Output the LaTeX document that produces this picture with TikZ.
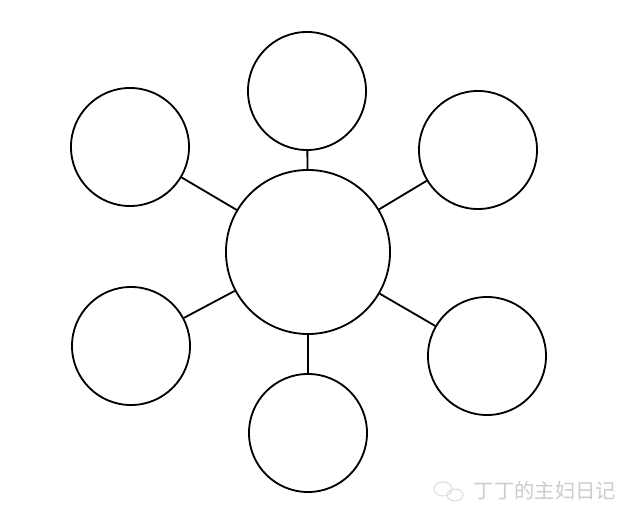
\documentclass[tikz,border=0pt]{standalone}
\usepackage{fontspec}
\newfontfamily\cjk{Noto Sans CJK SC}
\usetikzlibrary{shapes}

\begin{document}
\begin{tikzpicture}[x=0.025cm, y=-0.025cm,
		topic/.style={circle, draw, line width=1.3pt, minimum size=2.95cm, inner sep=0pt},
		hub/.style={topic, minimum size=4.1cm},
		spoke/.style={line width=1.3pt}]
		\useasboundingbox (0, 0) rectangle (640, 523);
		\path (308, 252) node[hub] (centre) {}
		(307, 91) node[topic] (top) {}
		(478, 150) node[topic] (upright) {}
		(130, 147) node[topic] (upleft) {}
		(131, 346) node[topic] (lowleft) {}
		(487, 356) node[topic] (lowright) {}
		(308, 433) node[topic] (bottom) {};

		\draw[spoke] (top) -- (centre);
		\draw[spoke] (upright) -- (centre);
		\draw[spoke] (upleft) -- (centre);
		\draw[spoke] (lowleft) -- (centre);
		\draw[spoke] (lowright) -- (centre);
		\draw[spoke] (bottom) -- (centre);

		% watermark
		\draw[gray!25, line width=0.8pt] (443, 489) ellipse (9 and 7);
		\draw[gray!25, line width=0.8pt] (455, 495) ellipse (8 and 6);
		\node[text=gray!40, inner sep=0pt] (mark) at (545, 491) {\cjk\fontsize{14.5}{15}\selectfont 丁丁的主妇日记};
	\end{tikzpicture}
\end{document}
